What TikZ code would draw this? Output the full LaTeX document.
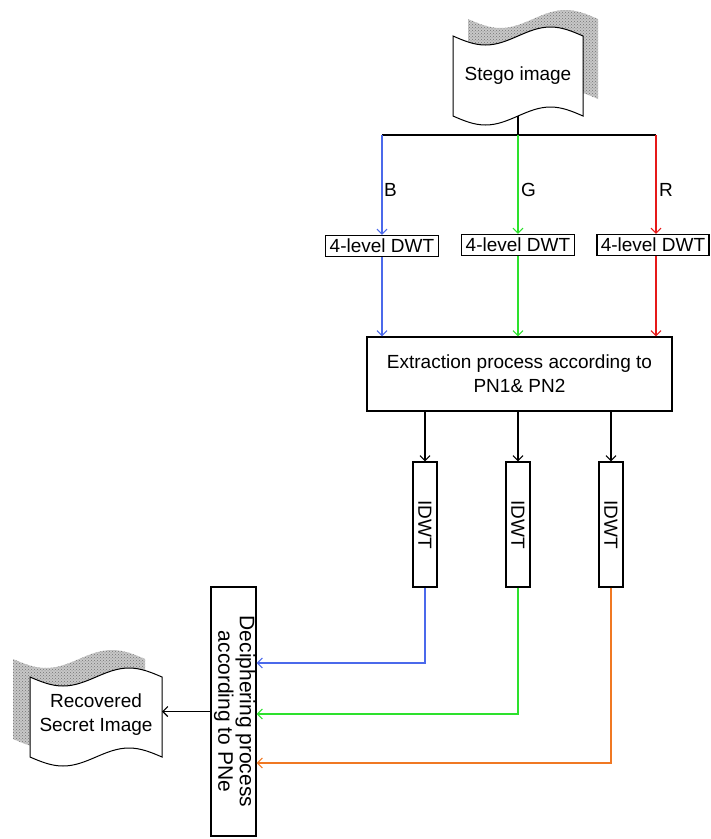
\documentclass[tikz,border=0pt]{standalone}
\usepackage{fontspec}
\setmainfont{Liberation Sans}
\usetikzlibrary{arrows.meta,patterns}
\definecolor{cblue}{RGB}{75,105,235}
\definecolor{cgreen}{RGB}{45,225,45}
\definecolor{cred}{RGB}{230,25,25}
\definecolor{corange}{RGB}{240,120,35}
\begin{document}
\begin{tikzpicture}[x=1pt,y=-1pt,
  txt/.style={font=\fontsize{19}{24}\selectfont},
  box/.style={draw, line width=1.2pt, fill=white, inner sep=0pt, txt},
  arr/.style={line width=1.1pt, -{Straight Barb[length=5pt,width=10pt]}},
  ln/.style={line width=1.1pt},
  shadowfill/.style={fill=black!22, postaction={pattern=crosshatch dots, pattern color=black!55}},
  front/.style={draw, line width=1pt, fill=white}]
\useasboundingbox (0,0) rectangle (711,839);

% ---------- Stego image (shadow to upper right)
\begin{scope}[shift={(15,-17)}]
\path[shadowfill] (453,36) sin (485.5,45) cos (518,36) sin (550.5,27) cos (583,36) -- (583,116) sin (550.5,107) cos (518,116) sin (485.5,125) cos (453,116) -- cycle;
\end{scope}
\path[front] (453,36) sin (485.5,45) cos (518,36) sin (550.5,27) cos (583,36) -- (583,116) sin (550.5,107) cos (518,116) sin (485.5,125) cos (453,116) -- cycle;
\node[txt] (stego) at (518,76) {Stego image};
\coordinate (stegoB) at (518,116);

% ---------- split line
\coordinate (sl) at (382,135);
\coordinate (sm) at (518,135);
\coordinate (sr) at (656,135);
\draw[ln] (stegoB) -- (sm);
\draw[ln] (sl) -- (sr);

% ---------- 4-level DWT boxes
\node[box, minimum width=113, minimum height=21] (dB) at (382,246) {4-level DWT};
\node[box, minimum width=113, minimum height=21] (dG) at (518,245) {4-level DWT};
\node[box, minimum width=112, minimum height=21] (dR) at (653,245) {4-level DWT};

\draw[arr,cblue] (sl) -- (dB.north);
\draw[arr,cgreen] (sm) -- (dG.north);
\draw[arr,cred] (sr) -- (sr |- dR.north);

\node[txt, anchor=west, inner sep=0pt] (lB) at (384,190) {B};
\node[txt, anchor=west, inner sep=0pt] (lG) at (521,190) {G};
\node[txt, anchor=west, inner sep=0pt] (lR) at (659,190) {R};

% ---------- Extraction
\node[box, minimum width=305, minimum height=74, align=center] (ext) at (519.5,374)
  {Extraction process according to\\PN1\& PN2};

\draw[arr,cblue] (dB.south) -- (dB.south |- ext.north);
\draw[arr,cgreen] (dG.south) -- (dG.south |- ext.north);
\draw[arr,cred] (sr |- dR.south) -- (sr |- ext.north);

% ---------- IDWT boxes
\node[box, minimum width=24, minimum height=125] (i1) at (425,524.5) {\rotatebox{-90}{IDWT}};
\node[box, minimum width=24, minimum height=125] (i2) at (518,524.5) {\rotatebox{-90}{IDWT}};
\node[box, minimum width=24, minimum height=125] (i3) at (611,524.5) {\rotatebox{-90}{IDWT}};

\draw[arr] (ext.south -| i1) -- (i1.north);
\draw[arr] (ext.south -| i2) -- (i2.north);
\draw[arr] (ext.south -| i3) -- (i3.north);

% ---------- Deciphering
\node[box, minimum width=45, minimum height=249] (dec) at (233.5,711.5)
  {\fontsize{21}{21}\selectfont\rotatebox{-90}{\begin{tabular}{@{}c@{}}Deciphering process\\according to PNe\end{tabular}}};

\draw[arr,cblue] (i1.south) |- ([yshift=48.5pt]dec.east);
\draw[arr,cgreen] (i2.south) |- ([yshift=-2.5pt]dec.east);
\draw[arr,corange] (i3.south) |- ([yshift=-51.5pt]dec.east);

% ---------- Recovered secret image (shadow to upper left)
\begin{scope}[shift={(-17,-18)}]
\path[shadowfill] (30,677) sin (63,686) cos (96,677) sin (129,668) cos (162,677) -- (162,757) sin (129,748) cos (96,757) sin (63,766) cos (30,757) -- cycle;
\end{scope}
\path[front] (30,677) sin (63,686) cos (96,677) sin (129,668) cos (162,677) -- (162,757) sin (129,748) cos (96,757) sin (63,766) cos (30,757) -- cycle;
\node[txt, align=center] (rec) at (96,715) {Recovered\\Secret Image};
\coordinate (recR) at (162,711.5);

\draw[arr] (dec.west) -- (recR);
\end{tikzpicture}
\end{document}
